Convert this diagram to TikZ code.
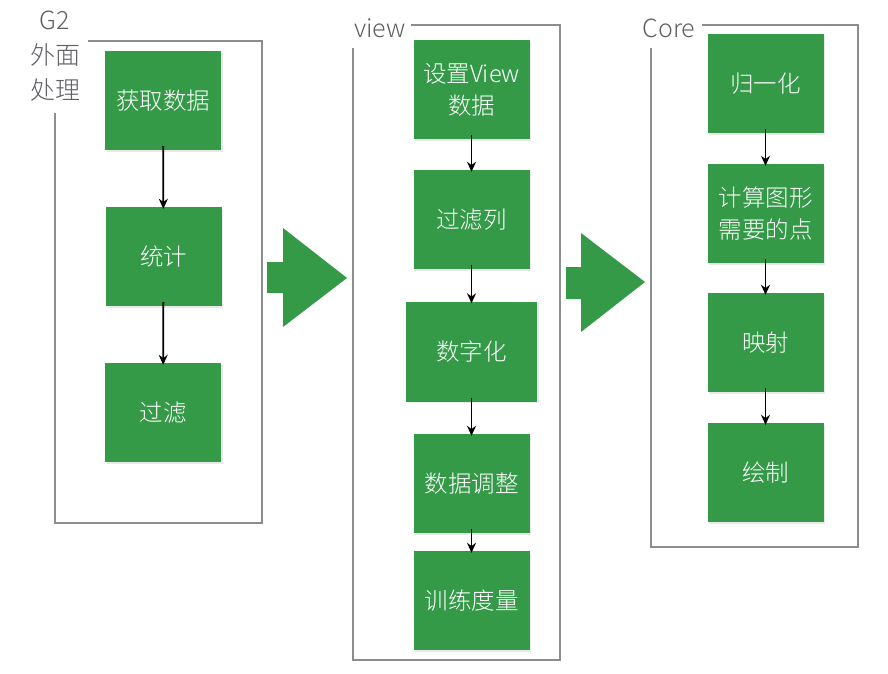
\documentclass[tikz,border=0pt]{standalone}
\usepackage{fontspec}
\setmainfont{Noto Sans CJK SC}
\newfontfamily\lightcjk{Noto Sans CJK SC Light}
\usetikzlibrary{arrows.meta,shadows}
\definecolor{boxgreen}{RGB}{52,154,72}
\definecolor{framegray}{RGB}{140,140,145}
\definecolor{labelgray}{RGB}{95,95,100}
\tikzset{
  x=1pt, y=-1pt,
  box/.style={fill=boxgreen, text=white, font=\lightcjk\fontsize{23.5}{32}\selectfont, align=center,
    inner sep=0pt, minimum width=116pt, minimum height=99pt,
    drop shadow={opacity=0.18, shadow xshift=1.5pt, shadow yshift=-1.5pt}},
  frame/.style={draw=framegray, line width=1.8pt},
  grouplabel/.style={text=labelgray, font=\lightcjk\fontsize{25}{35}\selectfont, align=center, inner sep=0pt},
  flow/.style={draw=black, line width=1.8pt, -{Stealth[length=10pt,width=9pt]}, shorten >=-2pt, shorten <=-4pt},
  bigarrow/.style={fill=boxgreen, draw=none}
}
\begin{document}
\begin{tikzpicture}
\useasboundingbox (0,0) rectangle (888,674);
\fill[white] (0,0) rectangle (888,674);
% frames
\draw[frame] (88,41) -- (262,41) -- (262,523) -- (55,523) -- (55,113);
\draw[frame] (411,25) -- (560,25) -- (560,660) -- (353,660) -- (353,48);
\draw[frame] (702,25) -- (858,25) -- (858,547) -- (651,547) -- (651,48);
% group labels
\node[grouplabel] (lg) at (55,56) {G2\\外面\\处理};
\node[grouplabel] (lv) at (380,28) {view};
\node[grouplabel] (lc) at (669,28) {Core};
% group 1
\node[box] (a1) at (163,100.5) {获取数据};
\node[box] (a2) at (163.5,256.5) {统计};
\node[box] (a3) at (163,412.5) {过滤};
% group 2
\node[box] (b1) at (471.5,89.5) {设置View\\数据};
\node[box] (b2) at (471.5,219.5) {过滤列};
\node[box, minimum width=131pt, minimum height=100pt] (b3) at (471.5,351.5) {数字化};
\node[box] (b4) at (471.5,483.5) {数据调整};
\node[box] (b5) at (471.5,600.5) {训练度量};
% group 3
\node[box] (c1) at (765.5,83.5) {归一化};
\node[box] (c2) at (765.5,213.5) {计算图形\\需要的点};
\node[box] (c3) at (765.5,342.5) {映射};
\node[box] (c4) at (765.5,472.5) {绘制};
% connectors
\draw[flow] (a1) -- (a2);
\draw[flow] (a2) -- (a3);
\draw[flow] (b1) -- (b2);
\draw[flow] (b2) -- (b3);
\draw[flow] (b3) -- (b4);
\draw[flow] (b4) -- (b5);
\draw[flow] (c1) -- (c2);
\draw[flow] (c2) -- (c3);
\draw[flow] (c3) -- (c4);
% big arrows
\fill[bigarrow] (267,262) -- (283,262) -- (283,228) -- (347,278) -- (283,327) -- (283,293) -- (267,293) -- cycle;
\fill[bigarrow] (566,267) -- (581,267) -- (581,233) -- (645,282) -- (581,332) -- (581,299) -- (566,299) -- cycle;
\end{tikzpicture}
\end{document}
